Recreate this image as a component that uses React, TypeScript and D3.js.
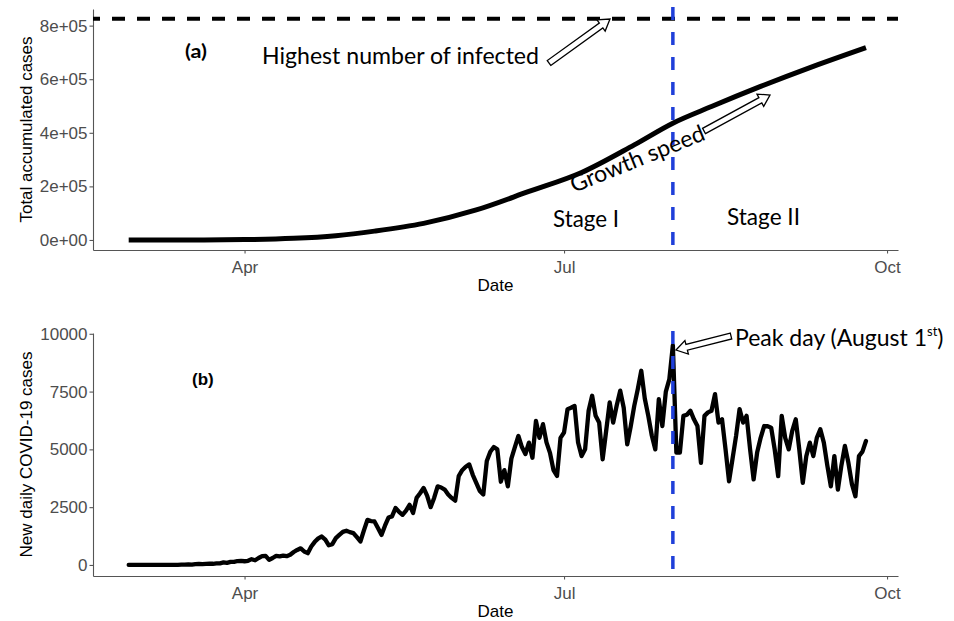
import React, { useEffect, useRef } from "react";
import * as d3 from "d3";

// panel (a): total accumulated cases, read at a few dates off the curve
const cumDates = [
  "2020-02-28", "2020-03-15", "2020-04-01", "2020-04-15", "2020-04-27",
  "2020-05-08", "2020-05-22", "2020-06-06", "2020-06-21", "2020-07-06",
  "2020-07-21", "2020-08-01", "2020-08-12", "2020-08-26", "2020-09-10",
  "2020-09-25",
];
const cumCases = [
  0, 100, 1400, 6000, 16000, 33000, 62000, 112000, 181000, 252000, 355000,
  436000, 498000, 573000, 648000, 718000,
];

// panel (b): new daily cases, one value per day from dailyStart
const dailyStart = "2020-02-28";
const dailyCases = [
  0, 0, 1, 1, 0, 0, 1, 0, 1, 0, 0, 3, 4, 0, 4, 12,
  15, 29, 11, 36, 46, 39, 48, 52, 51, 65, 70, 109, 88, 131, 130, 170, 180,
  160, 180, 250, 200, 300, 380, 390, 220, 300, 390, 370, 400, 380, 440, 560, 650, 720, 580,
  510, 800, 1000, 1150, 1230, 1100, 850, 900, 1160, 1300,
  1430, 1480, 1420, 1380, 1200, 1015, 1500, 1950, 1900, 1880,
  1600, 1300, 1700, 2050, 2100, 2460, 2300, 2170, 2350, 2600,
  2250, 2900, 3100, 3330, 3000, 2500, 2900, 3400, 3350, 3260,
  3050, 2900, 2780, 3840, 4100, 4250, 4350, 3900, 3550, 3200,
  3050, 4500, 4900, 5100, 5000, 3600, 4100, 3400, 4600, 5100,
  5580, 5100, 4800, 5290, 4640, 6230, 5500, 6090, 5300, 4850,
  4100, 3850, 5500, 5730, 6740, 6800, 6880, 5300, 4710, 5000,
  6670, 7320, 6450, 6160, 4570, 5800, 7030, 6160, 6900, 7540,
  6800, 5220, 6000, 6880, 7600, 8400, 7200, 6450, 5600, 5000,
  7170, 6010, 7500, 8040, 9500, 4860, 4860, 6450, 6500, 6670,
  6300, 6010, 4420, 6450, 6600, 6670, 7390, 6160, 6300, 5000,
  3620, 4600, 5580, 6740, 6160, 6450, 5000, 3700, 4860, 5500,
  6010, 6000, 5940, 5000, 3840, 6450, 5500, 5000, 5800, 6300,
  5000, 3550, 4700, 5290, 4710, 5500, 5870, 5290, 4300, 3400,
  4710, 3260, 4300, 5150, 4420, 3500, 2970, 4710, 4900, 5360,
];

const xTicks = ["2020-04-01", "2020-07-01", "2020-10-01"];
const cumTicks = [0, 200000, 400000, 600000, 800000];
const dailyTicks = [0, 2500, 5000, 7500, 10000];
const highestInfected = 826000;
const peakDate = "2020-08-01";

const W = 954;
const H = 621;
const axisFont = "'Liberation Sans', Arial, sans-serif";
const noteFont = "Lato, 'Open Sans', sans-serif";
const blue = "#1f3fd9";

// e.g. 800000 -> "8e+05"
const sciFormat = (d) => {
  const [m, e] = d.toExponential(0).split("e");
  return m + "e" + e[0] + e.slice(1).padStart(2, "0");
};

// hollow block arrow outline from tail to tip
const blockArrow = (x0, y0, x1, y1, w = 3, hw = 7, hl = 11) => {
  const len = Math.hypot(x1 - x0, y1 - y0);
  const ux = (x1 - x0) / len;
  const uy = (y1 - y0) / len;
  const nx = -uy;
  const ny = ux;
  const bx = x1 - ux * hl;
  const by = y1 - uy * hl;
  const pts = [
    [x0 + nx * w, y0 + ny * w],
    [bx + nx * w, by + ny * w],
    [bx + nx * hw, by + ny * hw],
    [x1, y1],
    [bx - nx * hw, by - ny * hw],
    [bx - nx * w, by - ny * w],
    [x0 - nx * w, y0 - ny * w],
  ];
  return "M" + pts.map((p) => p.join(",")).join("L") + "Z";
};

const App = () => {
  const svgRef = useRef(null);

  useEffect(() => {
    const parse = d3.utcParse("%Y-%m-%d");
    const svg = d3.select(svgRef.current);
    svg.selectAll("*").remove();
    svg.append("rect").attr("width", W).attr("height", H).attr("fill", "#fff");

    const x = d3
      .scaleUtc()
      .domain([new Date(Date.UTC(2020, 1, 17, 20)), new Date(Date.UTC(2020, 9, 4, 3))])
      .range([93, 898]);

    const yA = d3.scaleLinear().domain([-37400, 862000]).range([250, 9]);
    const yB = d3.scaleLinear().domain([-478, 10034]).range([576, 333]);

    const cumData = cumDates.map((d, i) => ({ date: parse(d), value: cumCases[i] }));
    const start = parse(dailyStart);
    const dailyData = dailyCases.map((v, i) => ({ date: d3.utcDay.offset(start, i), value: v }));

    const styleAxis = (g) => {
      g.attr("font-family", axisFont).attr("font-size", 17);
      g.selectAll(".domain").attr("stroke", "#555").attr("stroke-width", 1.1);
      g.selectAll(".tick line").attr("stroke", "#555").attr("stroke-width", 1.1);
      g.selectAll(".tick text").attr("fill", "#4d4d4d");
    };

    const drawAxes = (y, ticks, fmt, title, bottom) => {
      const [yBot, yTop] = y.range();
      svg
        .append("g")
        .attr("transform", `translate(0,${bottom})`)
        .call(
          d3
            .axisBottom(x)
            .tickValues(xTicks.map(parse))
            .tickFormat(d3.utcFormat("%b"))
            .tickSize(3.5)
            .tickSizeOuter(0)
            .tickPadding(7)
        )
        .call(styleAxis);

      svg
        .append("g")
        .attr("transform", "translate(93,0)")
        .call(d3.axisLeft(y).tickValues(ticks).tickFormat(fmt).tickSize(3.5).tickSizeOuter(0).tickPadding(2))
        .call(styleAxis);

      svg
        .append("text")
        .attr("x", (93 + 898) / 2)
        .attr("y", bottom + 41)
        .attr("text-anchor", "middle")
        .attr("font-family", axisFont)
        .attr("font-size", 17)
        .attr("fill", "#000")
        .text("Date");

      svg
        .append("text")
        .attr("transform", `translate(32,${(yBot + yTop) / 2}) rotate(-90)`)
        .attr("text-anchor", "middle")
        .attr("font-family", axisFont)
        .attr("font-size", 17)
        .attr("fill", "#000")
        .text(title);
    };

    drawAxes(yA, cumTicks, sciFormat, "Total accumulated cases", 250);
    drawAxes(yB, dailyTicks, d3.format("d"), "New daily COVID-19 cases", 576);

    // panel (a) marks
    svg
      .append("line")
      .attr("x1", 93)
      .attr("x2", 898)
      .attr("y1", yA(highestInfected))
      .attr("y2", yA(highestInfected))
      .attr("stroke", "#000")
      .attr("stroke-width", 4)
      .attr("stroke-dasharray", "13 12")
      .attr("stroke-dashoffset", 6);

    svg
      .append("path")
      .datum(cumData)
      .attr("fill", "none")
      .attr("stroke", "#000")
      .attr("stroke-width", 5)
      .attr("stroke-linejoin", "round")
      .attr(
        "d",
        d3
          .line()
          .x((d) => x(d.date))
          .y((d) => yA(d.value))
          .curve(d3.curveMonotoneX)
      );

    // panel (b) marks
    svg
      .append("path")
      .datum(dailyData)
      .attr("fill", "none")
      .attr("stroke", "#000")
      .attr("stroke-width", 4.3)
      .attr("stroke-linejoin", "round")
      .attr("stroke-linecap", "round")
      .attr(
        "d",
        d3
          .line()
          .x((d) => x(d.date))
          .y((d) => yB(d.value))
      );

    // peak day lines in both panels
    const px = x(parse(peakDate));
    [yA, yB].forEach((y) => {
      const [b, t] = y.range();
      svg
        .append("line")
        .attr("x1", px)
        .attr("x2", px)
        .attr("y1", t - 2)
        .attr("y2", b)
        .attr("stroke", blue)
        .attr("stroke-width", 3.5)
        .attr("stroke-dasharray", "13 12");
    });

    // annotations
    const note = (txt, xx, yy, size, len, extra = {}) => {
      const t = svg
        .append("text")
        .attr("x", xx)
        .attr("y", yy)
        .attr("font-family", noteFont)
        .attr("font-size", size)
        .attr("fill", "#000")
        .text(txt);
      if (len) t.attr("textLength", len).attr("lengthAdjust", "spacingAndGlyphs");
      Object.entries(extra).forEach(([k, v]) => t.attr(k, v));
      return t;
    };

    note("(a)", 185, 58, 18, 22, { "font-weight": "bold" });
    note("Highest number of infected", 262, 64, 23, 277);
    note("Growth speed", 0, 0, 23, 143, { transform: "translate(574,193) rotate(-22)" });
    note("Stage I", 553, 227, 23, 66);
    note("Stage II", 727, 225, 23, 73);

    const peak = svg
      .append("text")
      .attr("x", 735)
      .attr("y", 346)
      .attr("font-family", noteFont)
      .attr("font-size", 23)
      .attr("fill", "#000");
    peak.append("tspan").text("Peak day (August 1");
    peak.append("tspan").attr("font-size", 13).attr("dy", -10).text("st");
    peak.append("tspan").attr("dy", 10).text(")");

    svg
      .append("text")
      .attr("x", 192)
      .attr("y", 385)
      .attr("font-family", axisFont)
      .attr("font-weight", "bold")
      .attr("font-size", 17)
      .text("(b)");

    const arrows = [
      [549, 63, 610, 19],
      [704, 131, 770, 95],
      [731, 336, 676, 350],
    ];
    svg
      .selectAll("path.arrow")
      .data(arrows)
      .join("path")
      .attr("class", "arrow")
      .attr("d", (a) => blockArrow(a[0], a[1], a[2], a[3]))
      .attr("fill", "#fff")
      .attr("stroke", "#000")
      .attr("stroke-width", 1.3)
      .attr("stroke-linejoin", "miter");
  }, []);

  return (
    <div style={{ position: "absolute", left: 0, top: 0 }}>
      <svg ref={svgRef} width={W} height={H} style={{ display: "block" }}></svg>
    </div>
  );
};

export default App;
